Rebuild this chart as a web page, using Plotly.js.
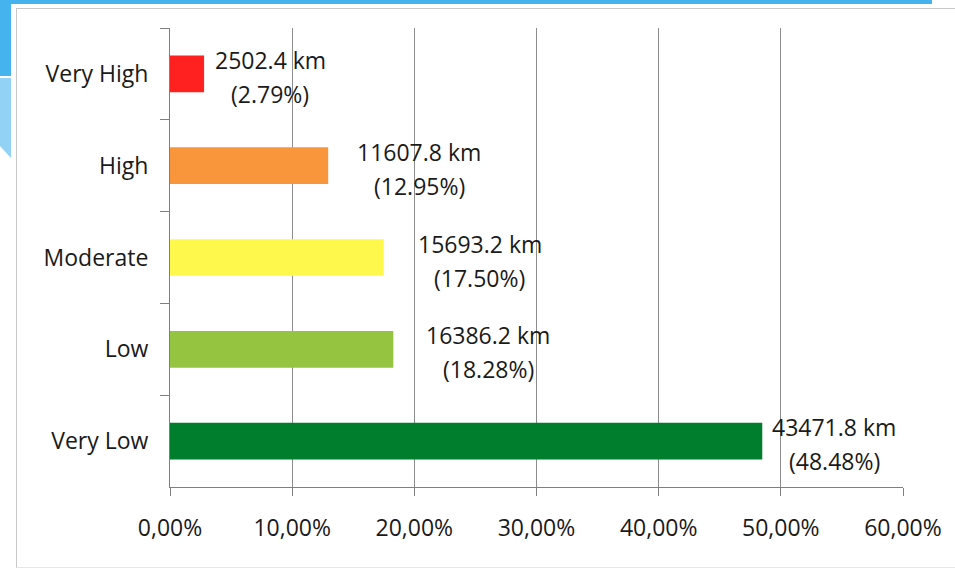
<!DOCTYPE html>
<html>
<head>
<meta charset="utf-8">
<script src="https://cdn.plot.ly/plotly-3.0.1.min.js"></script>
<style>
  html, body { margin: 0; padding: 0; background: #ffffff; }
  #wrap { position: relative; width: 955px; height: 570px; overflow: hidden; }
  #chart { position: absolute; left: 0; top: 0; width: 955px; height: 570px; }
  .deco { position: absolute; pointer-events: none; }
</style>
</head>
<body>
<div id="wrap">
  <div id="chart"></div>
  <div class="deco" style="left:0;top:0;width:932px;height:4px;background:#45B4EE;"></div>
  <div class="deco" style="left:0;top:0;width:11px;height:76px;background:#45B4EE;"></div>
  <div class="deco" style="left:0;top:78px;width:11px;height:80px;background:#92D2F5;clip-path:polygon(0 0,100% 0,100% 100%,0 85%);"></div>
  <div class="deco" style="left:16px;top:8px;width:945px;height:558px;border-left:1.5px solid #c8c8c8;border-top:1.5px solid #c8c8c8;border-bottom:1px solid #e6e6e6;"></div>
</div>
<script>
// ---- data ----
const categories = ['Very High', 'High', 'Moderate', 'Low', 'Very Low'];
const percentValues = [2.79, 12.95, 17.50, 18.28, 48.48];
const kmValues = ['2502.4', '11607.8', '15693.2', '16386.2', '43471.8'];
const percentLabels = ['2.79%', '12.95%', '17.50%', '18.28%', '48.48%'];
const xTickValues = [0, 10, 20, 30, 40, 50, 60];
const xTickLabels = ['0,00%', '10,00%', '20,00%', '30,00%', '40,00%', '50,00%', '60,00%'];

// ---- styling ----
const barColors = ['#FF2020', '#F9963B', '#FFF84C', '#94C440', '#007E2D'];
const labelShiftPx = [66, 91, 96, 95, 72];
const FONT = '"Open Sans", "DejaVu Sans", sans-serif';
const TEXT = '#1a1a1a';

const trace = {
  type: 'bar',
  orientation: 'h',
  y: categories,
  x: percentValues,
  marker: { color: barColors, line: { width: 0 } },
  hoverinfo: 'skip',
  showlegend: false
};

const annotations = [];
categories.forEach((c, i) => {
  annotations.push({
    x: percentValues[i], y: c, xref: 'x', yref: 'y',
    text: kmValues[i] + ' km', showarrow: false,
    xanchor: 'center', yanchor: 'middle',
    xshift: labelShiftPx[i], yshift: 14,
    font: { family: FONT, size: 23, color: TEXT }
  });
  annotations.push({
    x: percentValues[i], y: c, xref: 'x', yref: 'y',
    text: '(' + percentLabels[i] + ')', showarrow: false,
    xanchor: 'center', yanchor: 'middle',
    xshift: labelShiftPx[i], yshift: -20,
    font: { family: FONT, size: 23, color: TEXT }
  });
});

const layout = {
  width: 955, height: 570,
  margin: { l: 170, r: 52, t: 28, b: 83, pad: 0 },
  paper_bgcolor: '#ffffff',
  plot_bgcolor: '#ffffff',
  bargap: 0.6,
  font: { family: FONT, size: 23, color: TEXT },
  xaxis: {
    range: [0, 60],
    tickvals: xTickValues,
    ticktext: xTickLabels,
    showgrid: true, gridcolor: '#8c8c8c', gridwidth: 1,
    zeroline: false,
    showline: true, linecolor: '#7f7f7f', linewidth: 1,
    ticks: 'outside', ticklen: 8, tickcolor: '#7f7f7f', tickwidth: 1,
    ticklabelstandoff: 12,
    tickfont: { family: FONT, size: 23, color: TEXT },
    fixedrange: true
  },
  yaxis: {
    type: 'category',
    autorange: 'reversed',
    showgrid: false, zeroline: false,
    showline: true, linecolor: '#7f7f7f', linewidth: 1,
    ticks: 'outside', tickson: 'boundaries', ticklen: 9, tickcolor: '#7f7f7f', tickwidth: 1,
    ticklabelstandoff: 16,
    tickfont: { family: FONT, size: 23, color: TEXT },
    fixedrange: true
  },
  annotations: annotations
};

Plotly.newPlot('chart', [trace], layout, { displayModeBar: false, staticPlot: true });
</script>
</body>
</html>
